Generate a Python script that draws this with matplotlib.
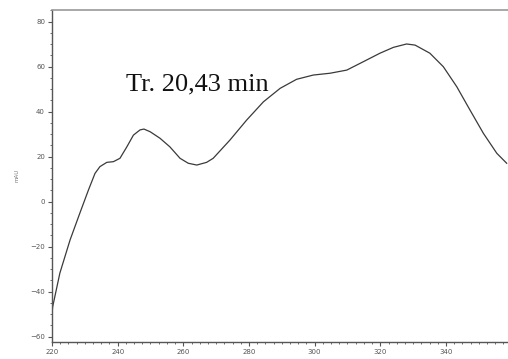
import matplotlib.pyplot as plt
from matplotlib.ticker import MultipleLocator

# UV spectrum (nm, mAU)
wavelength = [220, 220.2, 222.4, 225.5, 228.5, 231.1, 233.1, 234.6, 236.7, 238.7,
              240.7, 242.8, 244.8, 246.8, 248.0, 249.9, 252.9, 255.9, 259.0, 261.5,
              264.1, 267.1, 269.1, 274.2, 279.3, 284.4, 289.5, 294.5, 299.6, 304.7,
              309.8, 314.8, 319.9, 324.0, 328.0, 330.6, 335.1, 339.2, 343.3, 347.3,
              351.4, 355.5, 358.5]
absorbance = [-50, -46.7, -31.7, -17.0, -5.0, 5.2, 12.6, 15.6, 17.5, 17.8,
              19.3, 24.4, 29.6, 31.9, 32.3, 31.1, 28.2, 24.4, 19.3, 17.1,
              16.3, 17.5, 19.3, 27.4, 36.3, 44.4, 50.4, 54.4, 56.3, 57.1,
              58.5, 62.2, 66.0, 68.6, 70.1, 69.6, 66.0, 60.0, 51.1, 40.8,
              30.4, 21.5, 17.1]
x_ticks = [220, 240, 260, 280, 300, 320, 340]
y_ticks = [80, 60, 40, 20, 0, -20, -40, -60]

fig = plt.figure(figsize=(5.08, 3.59), dpi=100)
ax = fig.add_axes([52/508, 17.3/359, 456/508, 331.7/359])

ax.plot(wavelength, absorbance, color='#3a3a3a', linewidth=0.9)

ax.set_xlim(220, 358.9)
ax.set_ylim(-62.2, 85.2)
ax.set_xticks(x_ticks)
ax.set_yticks(y_ticks)
ax.xaxis.set_minor_locator(MultipleLocator(2.5))
ax.yaxis.set_minor_locator(MultipleLocator(5))
ax.tick_params(axis='both', which='major', labelsize=5, colors='#555555',
               length=3, width=0.8, direction='out', pad=2)
ax.tick_params(axis='both', which='minor', length=1.5, width=0.6, colors='#555555')

for s in ['left', 'bottom']:
    ax.spines[s].set_color('#555555')
    ax.spines[s].set_linewidth(1.0)
ax.spines['right'].set_visible(False)
ax.spines['top'].set_color('#999999')
ax.spines['top'].set_linewidth(1.2)

ax.set_ylabel('mAU', fontsize=4, color='#777777', labelpad=8)

ax.text(264.3, 51.9, 'Tr. 20,43 min', family='Liberation Serif', fontsize=19,
        color='#111111', ha='center', va='center')

fig.savefig('out.png', dpi=100)
